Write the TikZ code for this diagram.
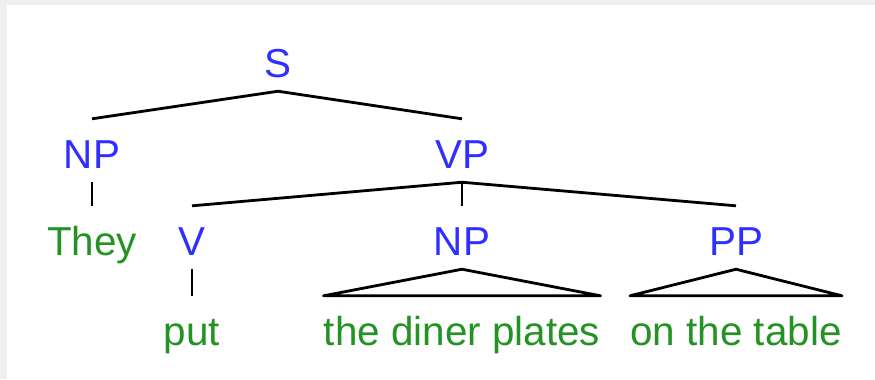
\documentclass[tikz,border=0pt]{standalone}
\usepackage{fontspec}
\setmainfont{Liberation Sans}
\definecolor{catBlue}{HTML}{2F2FFF}
\definecolor{wordGreen}{HTML}{249324}
\definecolor{edgeGray}{HTML}{EFEFEF}
\tikzset{
  catnode/.style={text=catBlue,font=\fontsize{23}{28}\selectfont,inner sep=0pt,
    text height=27.8pt,text depth=7.9pt,anchor=base},
  wordnode/.style={catnode,text=wordGreen},
  branch/.style={line width=1.6pt,line join=round},
}
\begin{document}
\begin{tikzpicture}[x=0.02cm,y=-0.02cm]
    \useasboundingbox (0,0) rectangle (875,379);
    \fill[edgeGray] (0,0) rectangle (875,379);
    \fill[white] (7,5) rectangle (875,379);
    % categories
    \node[catnode] (s) at (278,77) {S};
    \node[catnode] (np1) at (92,168) {NP};
    \node[catnode] (vp) at (462,168) {VP};
    \node[catnode] (v) at (192,255) {V};
    \node[catnode] (np2) at (462,255) {NP};
    \node[catnode] (pp) at (736,255) {PP};
    % words
    \node[wordnode] (they) at (92,255) {They};
    \node[wordnode] (put) at (192,345) {put};
    \node[wordnode] (plates) at (462,345) {the diner plates};
    \node[wordnode] (table) at (736,345) {on the table};
    % branches
    \draw[branch] (np1.north) -- (s.south) -- (vp.north);
    \draw[branch] (np1.south) -- (they.north);
    \draw[branch] (v.north) -- (vp.south) -- (pp.north);
    \draw[branch] (vp.south) -- (np2.north);
    \draw[branch] (v.south) -- (put.north);
    \draw[branch] (np2.south) -- (plates.north west) -- (plates.north east) -- cycle;
    \draw[branch] (pp.south) -- (table.north west) -- (table.north east) -- cycle;
  \end{tikzpicture}
\end{document}
